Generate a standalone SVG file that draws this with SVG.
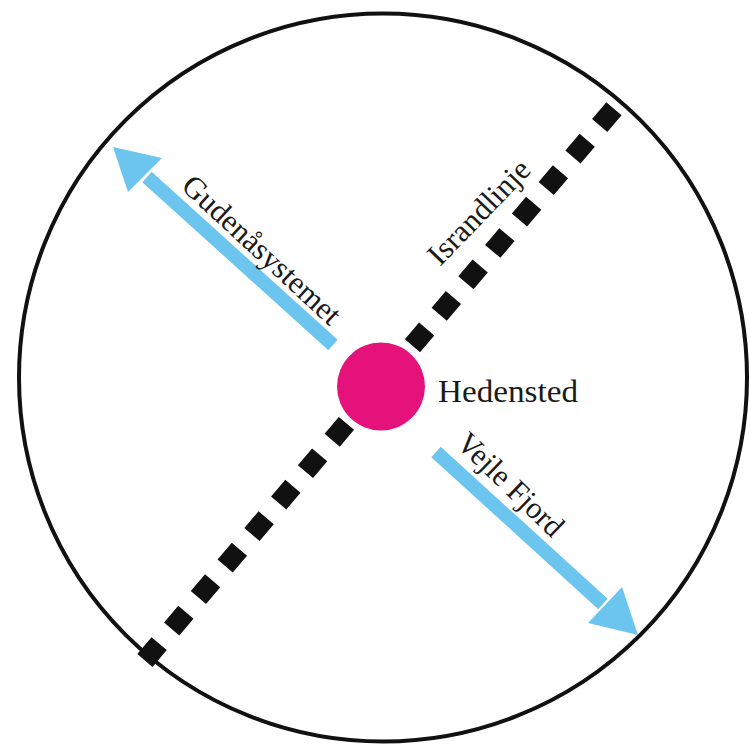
<svg xmlns="http://www.w3.org/2000/svg" width="750" height="747" viewBox="0 0 750 747">
<style>
.lbl{font-family:"Liberation Serif","DejaVu Serif",serif;font-size:31px;fill:#1a1a1a}
.shaft{stroke:#6cc5ef;stroke-width:14;fill:none}
.head{fill:#6cc5ef}
</style>
<rect width="750" height="747" fill="#ffffff"/>
<g id="connectors">
<line id="israndlinje-line" x1="144.9" y1="660.4" x2="614.1" y2="108.6" stroke="#111" stroke-width="20" stroke-dasharray="22 19.3"/>
<g id="arrow-gudenaa">
<line class="shaft" x1="333" y1="345" x2="147" y2="177"/>
<polygon class="head" points="113,147 162,158 128,192"/>
</g>
<g id="arrow-vejle">
<line class="shaft" x1="436" y1="452" x2="603" y2="604"/>
<polygon class="head" points="638,635 622,587 588,623"/>
</g>
</g>
<g id="boundary">
<circle cx="383" cy="377.5" r="364" fill="none" stroke="#111" stroke-width="4"/>
</g>
<g id="hedensted">
<circle cx="381" cy="386.5" r="44" fill="#e5127c"/>
<text class="lbl" x="438" y="402" textLength="140" lengthAdjust="spacingAndGlyphs">Hedensted</text>
</g>
<g id="label-gudenaa">
<text class="lbl" transform="translate(180,188) rotate(42.8)" textLength="204" lengthAdjust="spacingAndGlyphs">Gudenåsystemet</text>
</g>
<g id="label-israndlinje">
<text class="lbl" transform="translate(440,267) rotate(-46)" textLength="133" lengthAdjust="spacingAndGlyphs">Israndlinje</text>
</g>
<g id="label-vejle">
<text class="lbl" transform="translate(455,445) rotate(44)" textLength="135" lengthAdjust="spacingAndGlyphs">Vejle Fjord</text>
</g>
</svg>
